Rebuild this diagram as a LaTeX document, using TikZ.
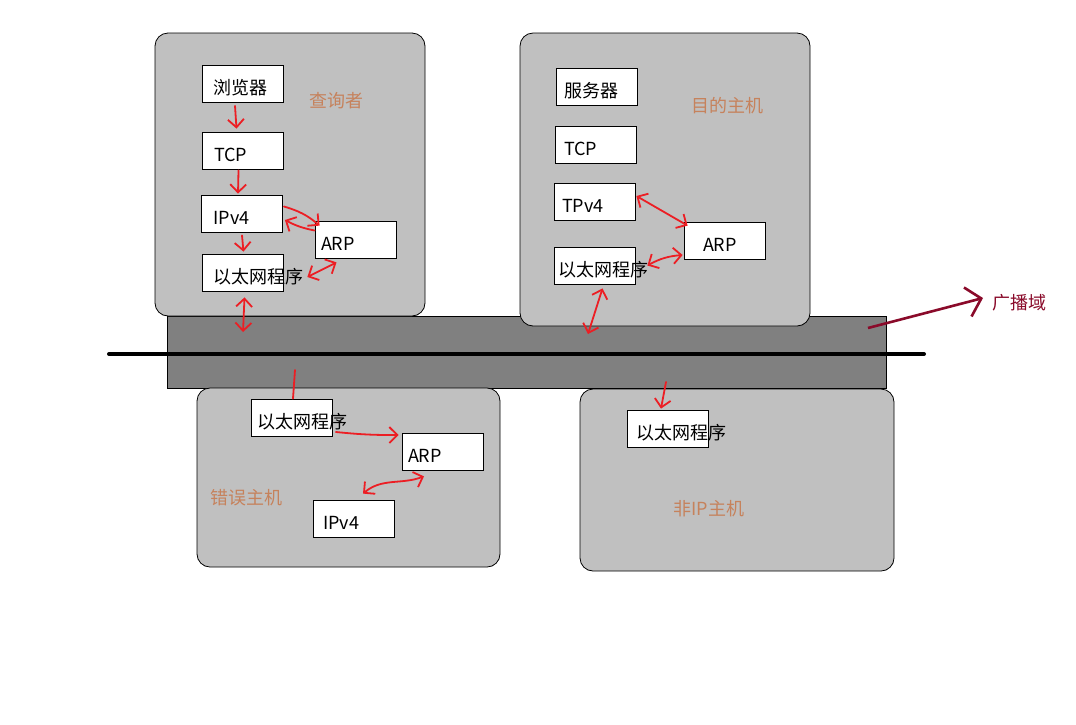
\documentclass[tikz,border=0pt]{standalone}
\usepackage{fontspec}
\setmainfont{Noto Sans CJK SC}
\usetikzlibrary{arrows.meta}
\usepackage{xcolor}
\definecolor{hostgray}{RGB}{192,192,192}
\definecolor{langray}{RGB}{128,128,128}
\definecolor{penred}{RGB}{236,30,36}
\definecolor{tagbrown}{RGB}{198,130,92}
\definecolor{bcmaroon}{RGB}{138,10,42}
\newcommand\lyrtxt[2][10pt]{\makebox[81pt][l]{\hspace*{#1}#2}}
\tikzset{
  host/.style={draw=black, line width=0.8pt, fill=hostgray, rounded corners=13pt, inner sep=0pt},
  lanband/.style={draw=black, line width=0.8pt, fill=langray, inner sep=0pt},
  layer/.style={draw=black, line width=0.8pt, fill=white, inner sep=0pt,
    minimum width=81, minimum height=37, text height=21pt, text depth=0pt,
    font=\fontsize{18pt}{20pt}\selectfont},
  hosttag/.style={text=tagbrown, inner sep=0pt, font=\fontsize{18pt}{20pt}\selectfont},
  pen/.style={penred, line width=1.8pt, line cap=round,
    -{Straight Barb[length=8pt,width=16pt,line width=1.8pt]}},
  penboth/.style={pen, {Straight Barb[length=8pt,width=16pt,line width=1.8pt]}-{Straight Barb[length=8pt,width=16pt,line width=1.8pt]}},
}

\begin{document}
\begin{tikzpicture}[x=1pt,y=-1pt]
\useasboundingbox[fill=white] (0,0) rectangle (1076,724);
% network segment
\node[lanband, minimum width=719, minimum height=72] (lan) at (526.5,352) {};
\draw[line width=4pt, line cap=round] (109,354) -- (924,354);
% hosts
\node[host, minimum width=270, minimum height=283] (q-host) at (290,174.5) {};
\node[host, minimum width=290, minimum height=293] (d-host) at (665,179.5) {};
\node[host, minimum width=303, minimum height=179] (e-host) at (348.5,477.5) {};
\node[host, minimum width=314, minimum height=182] (n-host) at (737,480) {};
\node[hosttag] (q-tag) at (336,101) {查询者};
\node[hosttag] (d-tag) at (727.5,105.5) {目的主机};
\node[hosttag] (e-tag) at (246,498) {错误主机};
\node[hosttag] (n-tag) at (709,509) {非IP主机};
% querier
\node[layer] (q-web) at (243,84) {\lyrtxt[11pt]{浏览器}};
\node[layer] (q-tcp) at (242.5,150.5) {\lyrtxt[12pt]{TCP}};
\node[layer] (q-ip) at (242,213.5) {\lyrtxt[12pt]{IPv4}};
\node[layer] (q-arp) at (355.5,239.5) {\lyrtxt[6pt]{ARP}};
\node[layer] (q-eth) at (242.5,272.5) {\lyrtxt[11pt]{以太网程序}};
% target host
\node[layer] (d-srv) at (596.5,86.5) {\lyrtxt[8pt]{服务器}};
\node[layer] (d-tcp) at (595.5,144.5) {\lyrtxt[9pt]{TCP}};
\node[layer] (d-ip) at (594.5,201.5) {\lyrtxt[8pt]{TPv4}};
\node[layer] (d-arp) at (724.5,240.5) {\lyrtxt[19pt]{ARP}};
\node[layer] (d-eth) at (594.5,265.5) {\lyrtxt[4pt]{以太网程序}};
% wrong host
\node[layer] (e-eth) at (292,417.5) {\lyrtxt[6pt]{以太网程序}};
\node[layer] (e-arp) at (442.5,451.5) {\lyrtxt[6pt]{ARP}};
\node[layer] (e-ip) at (353.5,518.5) {\lyrtxt[10pt]{IPv4}};
% non-IP host
\node[layer] (n-eth) at (668,428.5) {\lyrtxt[9pt]{以太网程序}};
% broadcast domain
\node[inner sep=0pt, text=bcmaroon, font=\fontsize{18pt}{20pt}\selectfont, anchor=west] (bc) at (992,303) {广播域};
\coordinate (bc-tail) at (868,328);
\coordinate (q-tap) at (243,332);
\coordinate (d-tap) at (588,334);
\coordinate (e-tap) at (295,370);
\coordinate (n-tap) at (666,382);

\draw[pen] ([xshift=-8pt,yshift=-3pt]q-web.south) -- ([xshift=-6pt,yshift=3pt]q-tcp.north);
\draw[pen] ([xshift=-4pt,yshift=-1pt]q-tcp.south) -- ([xshift=-4pt,yshift=1pt]q-ip.north);
\draw[pen] ([xshift=1pt,yshift=7pt]q-ip.east) to[bend left=12] ([xshift=5pt,yshift=-5pt]q-arp.north west);
\draw[pen] ([yshift=9pt]q-arp.west) to[bend left=8] ([xshift=2pt,yshift=-6.5pt]q-ip.east);
\draw[pen] ([yshift=-3pt]q-ip.south) -- ([xshift=1pt,yshift=2pt]q-eth.north);
\draw[penboth] ([xshift=-19pt,yshift=-4pt]q-arp.south) -- ([xshift=24pt,yshift=-4.5pt]q-eth.east);
\draw[penboth] ([xshift=2pt,yshift=-6pt]q-eth.south) -- (q-tap);

\draw[penboth] ([xshift=1pt,yshift=5.5pt]d-ip.east) -- ([xshift=4pt,yshift=-4pt]d-arp.north west);
\draw[penboth] ([xshift=-1pt,yshift=-14.5pt]d-arp.west) to[bend right=12] ([xshift=12pt]d-eth.east);
\draw[penboth] ([xshift=8pt,yshift=-4pt]d-eth.south) -- (d-tap);

\draw[penred, line width=1.8pt, line cap=round] (e-tap) -- ([xshift=1pt]e-eth.north);
\draw[pen] ([xshift=3pt,yshift=-14.5pt]e-eth.east) to[bend right=3] ([xshift=-3pt,yshift=16.5pt]e-arp.west);
\draw[penboth] ([xshift=-18.5pt,yshift=-6pt]e-arp.south) to[out=-160, in=40] ([xshift=9.5pt,yshift=6pt]e-ip.north);

\draw[pen] (n-tap) -- ([xshift=-7pt,yshift=1pt]n-eth.north);

\draw[bcmaroon, line width=2.6pt, -{Straight Barb[length=14pt,width=30pt,line width=2.6pt]}] (bc-tail) -- ([xshift=-9pt,yshift=5pt]bc.west);
\end{tikzpicture}
\end{document}
